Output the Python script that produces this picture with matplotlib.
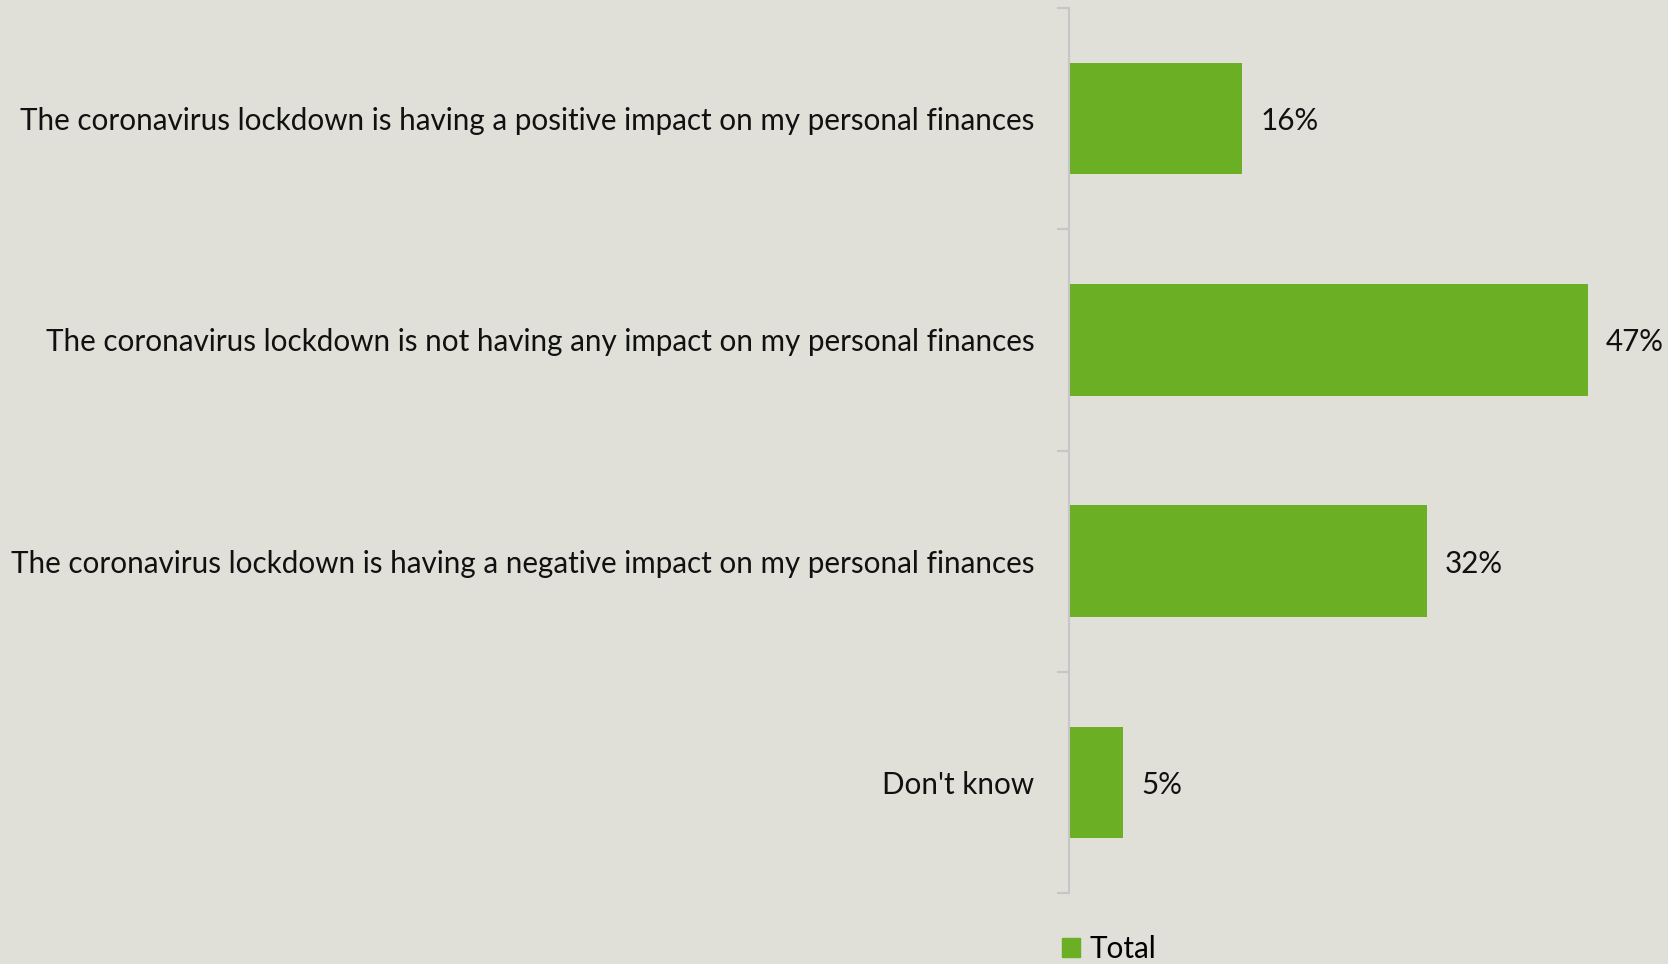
import matplotlib
matplotlib.use("Agg")
import matplotlib.pyplot as plt
from matplotlib.patches import Patch

categories = [
    "The coronavirus lockdown is having a positive impact on my personal finances",
    "The coronavirus lockdown is not having any impact on my personal finances",
    "The coronavirus lockdown is having a negative impact on my personal finances",
    "Don't know",
]
# bar lengths; labels as printed
values = [15.7, 47.0, 32.4, 4.9]
value_labels = ["16%", "47%", "32%", "5%"]
series_name = "Total"

bg = "#E0E0D9"
bar_color = "#6AAF24"
axis_gray = "#C6C6C6"
fs = 21.3

plt.rcParams["font.family"] = ["Lato", "DejaVu Sans"]

W, H = 1668, 964
fig = plt.figure(figsize=(W / 100, H / 100), dpi=100)
fig.patch.set_facecolor(bg)

# axes placed where the reference plot area sits
left, top, bottom = 1069, 8, 893
ax = fig.add_axes([left / W, 1 - bottom / H, (W - left) / W, (bottom - top) / H])
ax.set_facecolor(bg)

px_per_unit = 519 / 47
ax.set_xlim(0, (W - left) / px_per_unit)

ypos = list(range(len(categories)))
ax.barh(ypos, values, height=0.505, color=bar_color)
ax.set_ylim(len(categories) - 0.5, -0.5)

for y, v, lab in zip(ypos, values, value_labels):
    ax.annotate(lab, (v, y), xytext=(13, 0), textcoords="offset points",
                va="center_baseline", ha="left", fontsize=fs, color="#111111")

ax.set_yticks(ypos)
ax.set_yticklabels(categories, fontsize=fs, color="#111111")
ax.tick_params(axis="y", which="major", length=0, pad=25)
ax.set_yticks([i - 0.5 for i in range(len(categories) + 1)], minor=True)
ax.tick_params(axis="y", which="minor", length=8.5, width=1.5, color=axis_gray)
ax.set_xticks([])

for s in ["top", "right", "bottom"]:
    ax.spines[s].set_visible(False)
ax.spines["left"].set_color(axis_gray)
ax.spines["left"].set_linewidth(1.5)

fig.legend(handles=[Patch(color=bar_color, label=series_name)],
           loc="lower left", bbox_to_anchor=(1062 / W, 0.001),
           frameon=False, fontsize=fs, handlelength=0.62, handleheight=0.62,
           handletextpad=0.3, borderpad=0, borderaxespad=0)

fig.savefig("out.png", dpi=100, facecolor=bg)
